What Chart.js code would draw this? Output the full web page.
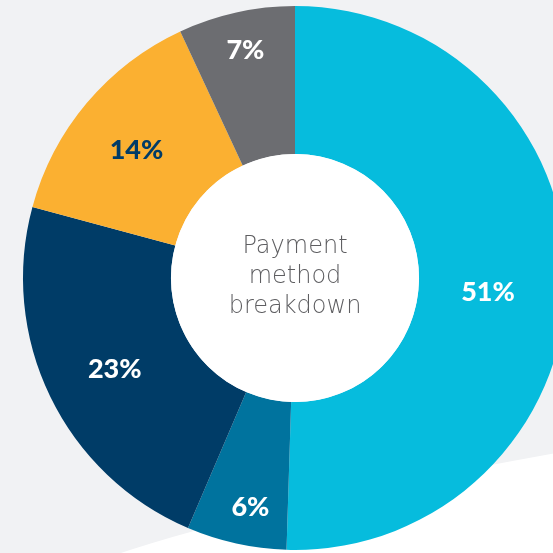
<!DOCTYPE html>
<html>
<head>
<meta charset="utf-8">
<script src="https://cdn.jsdelivr.net/npm/chart.js@4/dist/chart.umd.min.js"></script>
<style>
  html, body { margin: 0; padding: 0; overflow: hidden; background: #f1f2f4; }
  #wrap { position: absolute; left: 0; top: 0; width: 590px; height: 556px; }
</style>
</head>
<body>
<div id="wrap"><canvas id="pay"></canvas></div>
<script>
// 支付方式占比（顺时针，自 12 点方向开始）
const methods = ['A', 'B', 'C', 'D', 'E'];
const shares = [51, 6, 23, 14, 7];
const sliceColors = ['#06bcdd', '#00739e', '#003c67', '#fbb031', '#6c6d71'];
const labelColors = ['#ffffff', '#ffffff', '#ffffff', '#003c67', '#ffffff'];
// 百分比文字的微调 [dx, dy]
const labelNudge = [[-5, 10], [6, 0], [-2, 4], [-7, -1], [1, 0]];
const centerLines = ['Payment', 'method', 'breakdown'];

// 背景：浅灰底 + 右下角白色斜块
const backdrop = {
  id: 'backdrop',
  beforeDraw(chart) {
    const { ctx, width, height } = chart;
    ctx.save();
    ctx.fillStyle = '#f1f2f4';
    ctx.fillRect(0, 0, width, height);
    ctx.fillStyle = '#ffffff';
    ctx.beginPath();
    ctx.moveTo(112, height);
    ctx.quadraticCurveTo(260, 505, width, 447);
    ctx.lineTo(width, height);
    ctx.closePath();
    ctx.fill();
    ctx.restore();
  }
};

// 中心白圆 + 标题 + 各扇区百分比
const decor = {
  id: 'decor',
  afterDatasetsDraw(chart) {
    const { ctx } = chart;
    const meta = chart.getDatasetMeta(0);
    const arc0 = meta.data[0];
    const cx = arc0.x, cy = arc0.y;
    ctx.save();
    ctx.fillStyle = '#ffffff';
    ctx.beginPath();
    ctx.arc(cx, cy, arc0.innerRadius, 0, Math.PI * 2);
    ctx.fill();

    ctx.fillStyle = '#5e5e61';
    ctx.font = '200 24px "DejaVu Sans", sans-serif';
    ctx.textAlign = 'center';
    ctx.textBaseline = 'middle';
    centerLines.forEach((t, i) => ctx.fillText(t, cx, cy - 31 + i * 30));

    const total = shares.reduce((a, b) => a + b, 0);
    ctx.font = '900 27px Lato, "Open Sans", sans-serif';
    meta.data.forEach((arc, i) => {
      const mid = (arc.startAngle + arc.endAngle) / 2;
      const small = shares[i] / total < 0.1;
      const r = (arc.innerRadius + arc.outerRadius) / 2 + (small ? 36 : 0);
      ctx.fillStyle = labelColors[i];
      ctx.fillText(shares[i] + '%',
        cx + Math.cos(mid) * r + labelNudge[i][0],
        cy + Math.sin(mid) * r + 1 + labelNudge[i][1]);
    });
    ctx.restore();
  }
};

new Chart(document.getElementById('pay'), {
  type: 'doughnut',
  data: {
    labels: methods,
    datasets: [{
      data: shares,
      backgroundColor: sliceColors,
      borderWidth: 0,
      hoverOffset: 0
    }]
  },
  options: {
    responsive: true,
    maintainAspectRatio: false,
    animation: false,
    cutout: '45.6%',
    layout: { padding: { top: 6, bottom: 6, left: 23, right: 23 } },
    plugins: {
      legend: { display: false },
      tooltip: { enabled: false }
    }
  },
  plugins: [backdrop, decor]
});
</script>
</body>
</html>
